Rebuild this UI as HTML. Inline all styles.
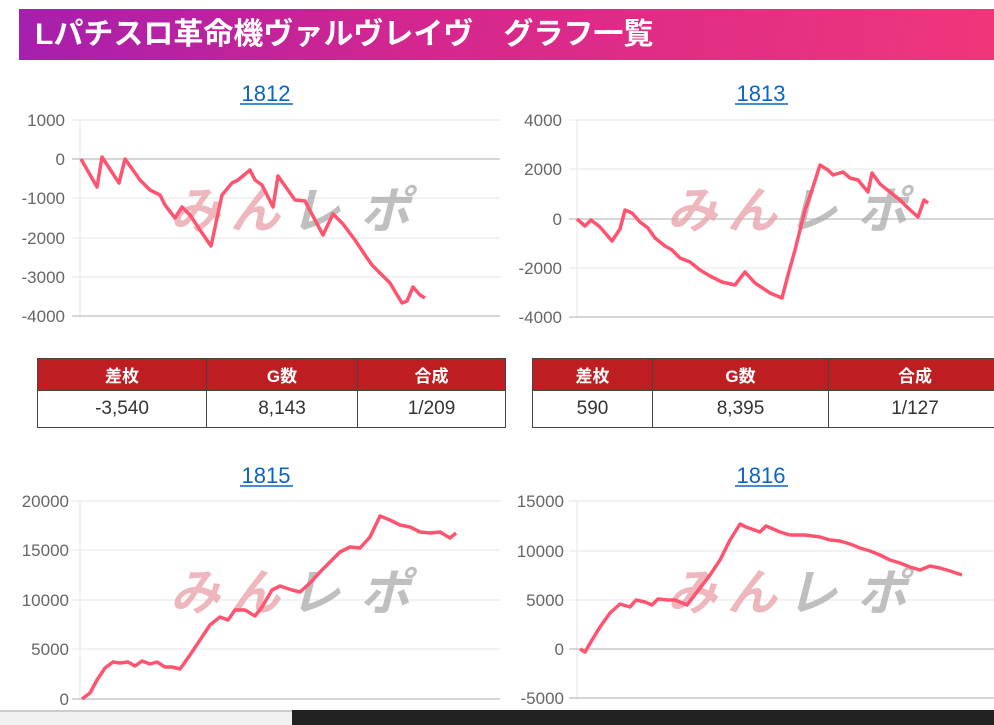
<!DOCTYPE html>
<html><head><meta charset="utf-8"><style>
html,body{margin:0;padding:0;width:994px;height:725px;overflow:hidden;background:#fff;font-family:"Liberation Sans","Noto Sans CJK JP",sans-serif}
.hdr{position:absolute;left:19px;top:9px;width:975px;height:51px;background:linear-gradient(100deg,#a51fae 0%,#d3268f 40%,#f0367a 100%);color:#fff;font-weight:bold;font-size:30px;line-height:51px;padding-left:16px;box-sizing:border-box;white-space:pre}
table{position:absolute;border-collapse:collapse;font-size:19px;color:#333}
td,th{border:1px solid #444;text-align:center;padding:0}
th{background:#be1e22;color:#fff;height:31px;font-size:17px}
td{height:36px}
.tb1{position:absolute;left:0;top:710px;width:292px;height:15px;background:#f0f0f0;border-top:2px solid #ccc;box-sizing:border-box}
.tb2{position:absolute;left:292px;top:710px;width:702px;height:15px;background:#222}
</style></head><body>
<div class="hdr">Lパチスロ革命機ヴァルヴレイヴ　グラフ一覧</div>
<svg width="994" height="725" style="position:absolute;left:0;top:0" font-family="Liberation Sans, sans-serif">
<g font-size="22" text-anchor="middle" fill="#0a64c8">
<text x="266" y="101">1812</text><line x1="240" y1="104" x2="293" y2="104" stroke="#0a64c8" stroke-width="1.5"/>
<text x="761" y="101">1813</text><line x1="735" y1="104" x2="788" y2="104" stroke="#0a64c8" stroke-width="1.5"/>
<text x="266" y="483">1815</text><line x1="240" y1="486" x2="293" y2="486" stroke="#0a64c8" stroke-width="1.5"/>
<text x="761" y="483">1816</text><line x1="735" y1="486" x2="788" y2="486" stroke="#0a64c8" stroke-width="1.5"/>
</g>
<g stroke="#e6e6e6" stroke-width="1">
<line x1="72" y1="120" x2="500" y2="120"/><line x1="72" y1="198" x2="500" y2="198"/><line x1="72" y1="238" x2="500" y2="238"/><line x1="72" y1="277" x2="500" y2="277"/>
<line x1="80" y1="120" x2="80" y2="318"/>
<line x1="569" y1="120" x2="994" y2="120"/><line x1="569" y1="169" x2="994" y2="169"/><line x1="569" y1="268" x2="994" y2="268"/>
<line x1="577" y1="120" x2="577" y2="318"/>
<line x1="72" y1="501" x2="500" y2="501"/><line x1="72" y1="550" x2="500" y2="550"/><line x1="72" y1="600" x2="500" y2="600"/><line x1="72" y1="649" x2="500" y2="649"/>
<line x1="80" y1="501" x2="80" y2="700"/>
<line x1="569" y1="501" x2="994" y2="501"/><line x1="569" y1="551" x2="994" y2="551"/><line x1="569" y1="600" x2="994" y2="600"/>
<line x1="577" y1="501" x2="577" y2="700"/>
</g>
<g stroke="#c8c8c8" stroke-width="1.5">
<line x1="72" y1="159" x2="500" y2="159"/><line x1="72" y1="316" x2="500" y2="316"/>
<line x1="569" y1="219" x2="994" y2="219"/><line x1="569" y1="317" x2="994" y2="317"/>
<line x1="72" y1="699" x2="500" y2="699"/>
<line x1="569" y1="649" x2="994" y2="649"/><line x1="569" y1="698" x2="994" y2="698"/>
</g>
<g font-size="17" fill="#666" text-anchor="end">
<text x="65" y="126">1000</text><text x="65" y="165">0</text><text x="65" y="204">-1000</text><text x="65" y="244">-2000</text><text x="65" y="283">-3000</text><text x="65" y="322">-4000</text>
<text x="562" y="126">4000</text><text x="562" y="175">2000</text><text x="562" y="225">0</text><text x="562" y="274">-2000</text><text x="562" y="323">-4000</text>
<text x="69" y="507">20000</text><text x="69" y="556">15000</text><text x="69" y="606">10000</text><text x="69" y="655">5000</text><text x="69" y="705">0</text>
<text x="564" y="507">15000</text><text x="564" y="557">10000</text><text x="564" y="606">5000</text><text x="564" y="655">0</text><text x="564" y="704">-5000</text>
</g>
<g font-size="50" font-weight="bold" font-style="italic" font-family="Noto Sans CJK JP, sans-serif">
<text x="170" y="228" fill="#e8a0a8" opacity="0.75" textLength="110">みん</text><text x="290" y="228" fill="#aaa" opacity="0.75" textLength="120">レポ</text>
<text x="667" y="228" fill="#e8a0a8" opacity="0.75" textLength="110">みん</text><text x="787" y="228" fill="#aaa" opacity="0.75" textLength="120">レポ</text>
<text x="170" y="610" fill="#e8a0a8" opacity="0.75" textLength="110">みん</text><text x="290" y="610" fill="#aaa" opacity="0.75" textLength="120">レポ</text>
<text x="667" y="610" fill="#e8a0a8" opacity="0.75" textLength="110">みん</text><text x="787" y="610" fill="#aaa" opacity="0.75" textLength="120">レポ</text>
</g>
<g fill="none" stroke="#ff5470" stroke-width="3.5" stroke-linejoin="round">
<polyline points="81,159 97,187 102,157 119,183 125,159 140,180 150,190 160,195 165,205 175,218 182,207 190,215 200,230 211,246 222,195 232,183 238,180 250,170 255,180 262,185 273,207 278,176 290,193 295,200 305,201 323,235 333,214 343,224 355,240 365,255 372,265 390,283 402,303 407,301 413,287 420,295 425,298"/>
<polyline points="577,219 585,226 591,220 600,227 612,241 620,229 625,210 632,213 640,222 648,228 655,238 665,246 672,250 680,258 690,262 700,270 710,276 722,282 735,285 745,272 755,283 770,293 782,298 788,275 795,250 805,210 812,190 820,165 828,170 833,175 843,172 850,178 858,180 868,192 872,173 880,184 890,192 900,200 908,208 918,217 924,200 928,203"/>
<polyline points="82,699 90,693 97,680 105,668 113,662 120,663 128,662 135,666 142,661 150,664 157,662 165,667 172,667 180,669 190,655 200,640 210,625 220,617 228,620 235,610 245,610 255,616 262,607 272,590 280,586 292,590 300,592 310,583 320,572 330,562 340,552 350,547 360,548 370,537 380,516 390,520 400,525 410,527 420,532 430,533 440,532 450,538 456,533"/>
<polyline points="580,649 585,652 592,640 600,627 610,613 620,604 630,607 636,600 645,602 652,605 658,599 668,600 675,600 687,605 700,588 710,575 720,560 730,540 740,524 746,527 760,532 766,526 780,532 790,535 805,535 820,537 830,540 840,541 850,544 860,548 870,551 880,555 890,560 900,563 910,567 920,570 930,566 940,568 950,571 962,575"/>
</g>
</svg>
<table style="left:37px;top:358px;width:469px"><tr><th style="width:168px">差枚</th><th style="width:150px">G数</th><th>合成</th></tr><tr><td>-3,540</td><td>8,143</td><td>1/209</td></tr></table>
<table style="left:532px;top:358px;width:470px"><tr><th style="width:119px">差枚</th><th style="width:175px">G数</th><th>合成</th></tr><tr><td>590</td><td>8,395</td><td>1/127</td></tr></table>
<div class="tb1"></div><div class="tb2"></div>
</body></html>
